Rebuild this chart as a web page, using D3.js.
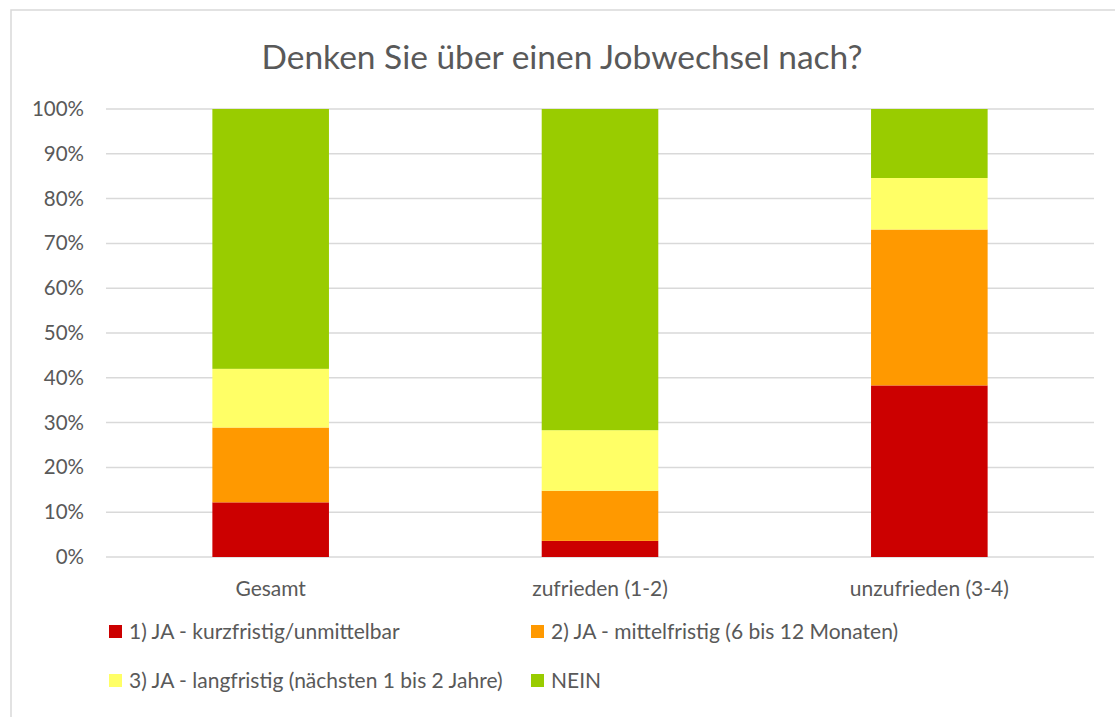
<!DOCTYPE html>
<html>
<head>
<meta charset="utf-8">
<script src="https://cdn.jsdelivr.net/npm/d3@7"></script>
<style>
  body { margin: 0; background: #fff; }
  text { font-family: Lato, "Open Sans", sans-serif; fill: #595959; }
</style>
</head>
<body>
<svg id="chart" width="1115" height="717"></svg>
<script>
// data
var categories = ["Gesamt", "zufrieden (1-2)", "unzufrieden (3-4)"];
var seriesNames = [
  "1) JA - kurzfristig/unmittelbar",
  "2) JA - mittelfristig (6 bis 12 Monaten)",
  "3) JA - langfristig (nächsten 1 bis 2 Jahre)",
  "NEIN"
];
var kurz = [12.2, 3.6, 38.3];
var mittel = [16.7, 11.2, 34.8];
var lang = [13.1, 13.5, 11.5];
var nein = [58.0, 71.7, 15.4];
var yTicks = [0, 10, 20, 30, 40, 50, 60, 70, 80, 90, 100];
var colors = ["#CC0000", "#FF9900", "#FFFF66", "#99CC00"];

var svg = d3.select("#chart"),
    width = +svg.attr("width"),
    height = +svg.attr("height");

// chart frame
svg.append("rect")
    .attr("x", 11).attr("y", 10)
    .attr("width", width - 11 + 5).attr("height", height - 10 + 5)
    .attr("fill", "#fff")
    .attr("stroke", "#d9d9d9")
    .attr("stroke-width", 1.5);

svg.append("text")
    .attr("x", 562).attr("y", 69)
    .attr("text-anchor", "middle")
    .style("font-size", "33.5px")
    .text("Denken Sie über einen Jobwechsel nach?");

var x = d3.scaleBand()
    .domain(categories)
    .range([106, 1094])
    .paddingInner(0.646)
    .paddingOuter(0.323);

var y = d3.scaleLinear()
    .domain([0, 100])
    .range([557, 109]);

// grid
svg.append("g")
    .selectAll("line")
    .data(yTicks)
    .enter().append("line")
    .attr("x1", 106).attr("x2", 1094)
    .attr("y1", function(d) { return y(d); })
    .attr("y2", function(d) { return y(d); })
    .attr("stroke", "#d9d9d9")
    .attr("stroke-width", 1.5);

var yAxis = svg.append("g")
    .attr("transform", "translate(84,0)")
    .call(d3.axisLeft(y).tickValues(yTicks).tickSize(0).tickFormat(function(d) { return d + "%"; }));
yAxis.select(".domain").remove();
yAxis.selectAll("text")
    .attr("x", 0)
    .style("font-size", "20.5px")
    .style("font-family", "Lato, sans-serif")
    .attr("fill", "#595959");

var table = categories.map(function(c, i) {
  return {cat: c, s0: kurz[i], s1: mittel[i], s2: lang[i], s3: nein[i]};
});
var stack = d3.stack().keys(["s0", "s1", "s2", "s3"]);
var layers = stack(table);

svg.append("g")
    .selectAll("g")
    .data(layers)
    .enter().append("g")
    .attr("fill", function(d, i) { return colors[i]; })
    .selectAll("rect")
    .data(function(d) { return d; })
    .enter().append("rect")
    .attr("x", function(d) { return x(d.data.cat); })
    .attr("width", x.bandwidth())
    .attr("y", function(d) { return y(d[1]); })
    .attr("height", function(d) { return y(d[0]) - y(d[1]); });

var xAxis = svg.append("g")
    .attr("transform", "translate(0,557)")
    .call(d3.axisBottom(x).tickSize(0).tickPadding(24));
xAxis.select(".domain").remove();
xAxis.selectAll("text")
    .style("font-size", "21px")
    .style("font-family", "Lato, sans-serif")
    .attr("fill", "#595959");

// legend
var legendPos = [[109, 632], [531, 632], [109, 681], [531, 681]];
var legend = svg.append("g")
    .selectAll("g")
    .data(seriesNames)
    .enter().append("g")
    .attr("transform", function(d, i) { return "translate(" + legendPos[i][0] + "," + legendPos[i][1] + ")"; });
legend.append("rect")
    .attr("x", 0).attr("y", -7)
    .attr("width", 13).attr("height", 13)
    .attr("fill", function(d, i) { return colors[i]; });
legend.append("text")
    .attr("x", 20).attr("y", 0)
    .attr("dy", "0.35em")
    .style("font-size", "21px")
    .text(function(d) { return d; });
</script>
</body>
</html>
